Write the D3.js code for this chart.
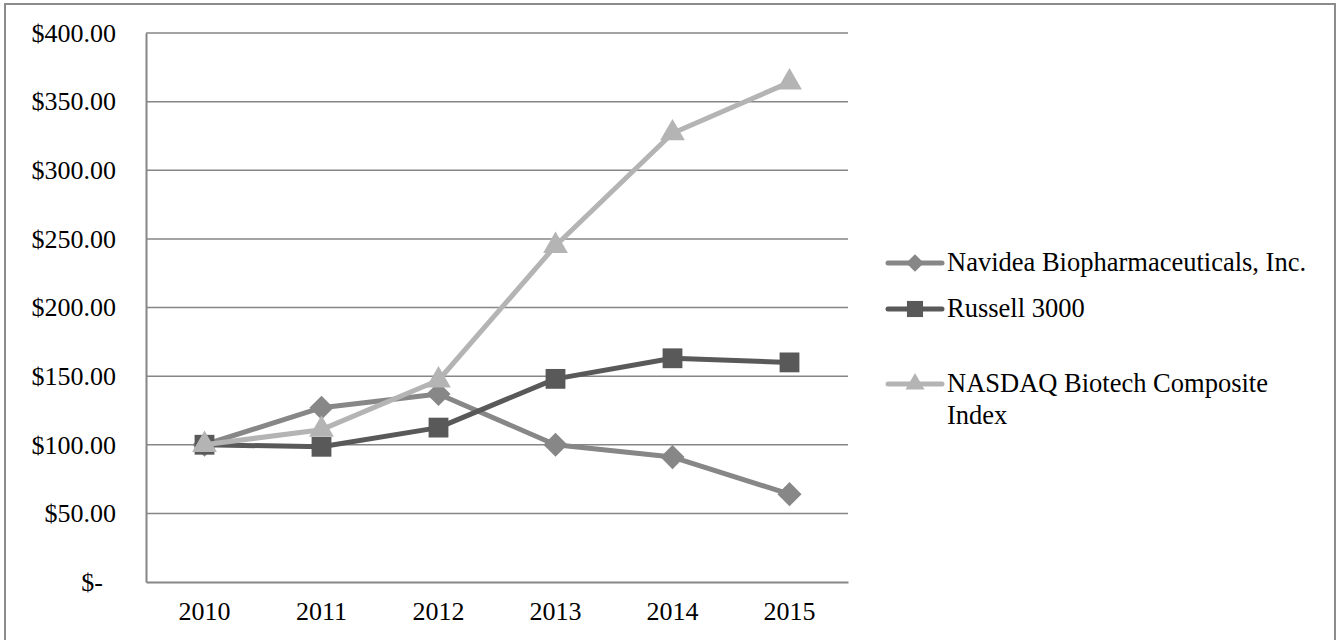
<!DOCTYPE html>
<html>
<head>
<meta charset="utf-8">
<script src="https://cdn.jsdelivr.net/npm/d3@7"></script>
<style>
  body { margin: 0; background: #fff; }
  svg { display: block; }
  text { font-family: "Liberation Serif", "Times New Roman", serif; fill: #000; }
  .axis text { font-size: 26px; }
  .grid line { stroke: #868686; stroke-width: 1.5; }
</style>
</head>
<body>
<svg width="1337" height="640"></svg>
<script>
const years = ['2010', '2011', '2012', '2013', '2014', '2015'];
const navidea = [100, 127, 137, 100, 91, 64];
const russell = [100, 98.5, 112.5, 148, 163, 160];
const nasdaq = [100, 111, 147, 245, 327, 364];
const yTicks = [0, 50, 100, 150, 200, 250, 300, 350, 400];
const seriesNames = ['Navidea Biopharmaceuticals, Inc.', 'Russell 3000', 'NASDAQ Biotech Composite Index'];

const series = [
  { name: seriesNames[0], values: navidea, color: '#878787', shape: d3.symbolDiamond2, size: 370, legendSize: 200 },
  { name: seriesNames[1], values: russell, color: '#595959', shape: d3.symbolSquare2, size: 500, legendSize: 330 },
  { name: seriesNames[2], values: nasdaq, color: '#b4b4b4', shape: d3.symbolTriangle2, size: 440, legendSize: 260 },
];

const svg = d3.select('svg');
const margin = { left: 146, right: 489, top: 33, bottom: 58 };
const width = 1337 - margin.left - margin.right;
const height = 640 - margin.top - margin.bottom;

// outer frame
svg.append('rect')
  .attr('x', 5).attr('y', 4)
  .attr('width', 1330).attr('height', 645)
  .attr('fill', 'none').attr('stroke', '#8c8c8c').attr('stroke-width', 2);

const root = svg.append('g').attr('transform', `translate(${margin.left}, ${margin.top})`);

const x = d3.scaleBand().domain(years).range([0, width]);
const y = d3.scaleLinear().domain([0, 400]).range([height, 0]);

// horizontal gridlines
root.append('g')
  .attr('class', 'grid')
  .selectAll('line')
  .data(yTicks.filter(d => d > 0))
  .join('line')
  .attr('x1', 0)
  .attr('x2', width)
  .attr('y1', d => y(d))
  .attr('y2', d => y(d));

// y axis
root.append('g')
  .attr('class', 'axis')
  .call(d3.axisLeft(y).tickValues(yTicks).tickSize(0).tickPadding(30)
    .tickFormat(d => d === 0 ? '$-' : '$' + d3.format('.2f')(d)))
  .call(g => g.attr('font-family', null).attr('font-size', null))
  .call(g => g.select('.domain').attr('stroke', '#868686').attr('stroke-width', 2))
  .call(g => g.selectAll('.tick').filter(d => d === 0).select('text').attr('dx', -13));

// x axis
root.append('g')
  .attr('class', 'axis')
  .attr('transform', `translate(0, ${height})`)
  .call(d3.axisBottom(x).tickSize(0).tickPadding(20))
  .call(g => g.attr('font-family', null).attr('font-size', null))
  .call(g => g.select('.domain').attr('stroke', '#868686').attr('stroke-width', 2));

const cx = d => x(d) + x.bandwidth() / 2;

const line = d3.line()
  .x((d, i) => cx(years[i]))
  .y(d => y(d));

series.forEach(s => {
  root.append('path')
    .datum(s.values)
    .attr('fill', 'none')
    .attr('stroke', s.color)
    .attr('stroke-width', 5)
    .attr('stroke-linejoin', 'round')
    .attr('d', line);

  root.append('g')
    .selectAll('path')
    .data(s.values)
    .join('path')
    .attr('transform', (d, i) => `translate(${cx(years[i])}, ${y(d)})`)
    .attr('d', d3.symbol().type(s.shape).size(s.size))
    .attr('fill', s.color);
});

// legend
const legendRows = [263, 309, 384];
const legend = svg.append('g');
series.forEach((s, i) => {
  const g = legend.append('g').attr('transform', `translate(888, ${legendRows[i]})`);
  g.append('line')
    .attr('x1', 0).attr('x2', 54)
    .attr('stroke', s.color).attr('stroke-width', 5)
    .attr('stroke-linecap', 'round');
  g.append('path')
    .attr('transform', 'translate(27, 0)')
    .attr('d', d3.symbol().type(s.shape).size(s.legendSize))
    .attr('fill', s.color);
  const words = s.name === seriesNames[2] ? ['NASDAQ Biotech Composite', 'Index'] : [s.name];
  const t = g.append('text')
    .attr('x', 59)
    .style('font-size', '26.5px');
  words.forEach((w, j) => {
    t.append('tspan').attr('x', 59).attr('dy', j === 0 ? '0.32em' : '1.2em').text(w);
  });
});
</script>
</body>
</html>
